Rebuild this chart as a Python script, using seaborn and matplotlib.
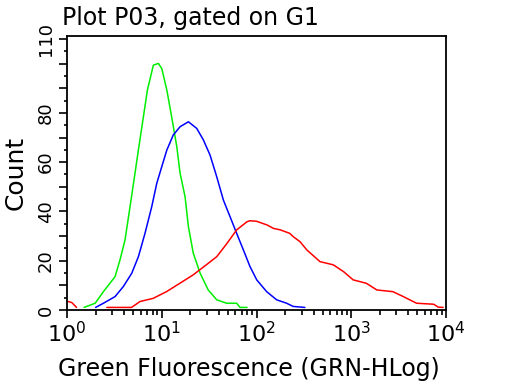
import numpy as np
import pandas as pd
import seaborn as sns
import matplotlib.pyplot as plt
from matplotlib.ticker import FixedLocator, NullFormatter

# histogram traces (fluorescence, count)
green_x = [1.51, 1.98, 2.42, 3.21, 3.62, 4.09, 4.62, 5.09, 5.66, 6.4, 7.05, 8.15, 9.2,
           10.0, 11.3, 12.7, 14.4, 15.6, 17.6, 19.1, 21.5, 25.4, 30.9, 38.0, 48.4,
           61.7, 67.0, 79.4]
green_y = [1, 2.7, 7.4, 13.5, 20.3, 28.4, 41.9, 52.8, 64.9, 78.5, 89.3, 99.4, 100.1,
           98, 89.3, 78.5, 66.3, 55.5, 46, 33.8, 23, 14.9, 8.1, 4.1, 2.7,
           2.7, 1, 1]

blue_x = [2.0, 2.42, 3.21, 3.93, 4.82, 5.66, 6.65, 7.83, 8.85, 10.0, 11.3, 13.2, 15.6,
          19.1, 23.4, 27.5, 32.3, 38.0, 44.7, 52.5, 61.7, 72.6, 85.3, 100.5, 128,
          163, 208, 244, 324]
blue_y = [1, 2.7, 5.4, 9.5, 14.9, 21.6, 31.1, 41.9, 51.4, 58.2, 64.9, 71, 74.4,
          76.4, 73.7, 69, 62.9, 54.1, 44.6, 37.9, 31.1, 24.4, 17.6, 12.2, 7.4,
          4.1, 2.7, 1.4, 1]

red_blip_x = [1.0, 1.12, 1.26]
red_blip_y = [3.5, 3.0, 1.0]

red_x = [2.63, 4.79, 5.89, 8.13, 11.2, 15.5, 21.4, 29.5, 38.0, 49.0, 61.7, 79.4, 85.1,
         100, 129, 151, 178, 224, 245, 288, 339, 372, 468, 646, 832, 1047, 1445,
         1862, 2754, 3548, 4898, 7413, 8318, 9333]
red_y = [1, 1, 3.4, 4.7, 7.4, 10.8, 14.2, 18.3, 21.6, 27.1, 32.5, 35.8, 36.2,
         36, 34.5, 33.1, 32.5, 31.1, 29.7, 27.7, 24.4, 23, 19.6, 18.3, 15.5, 12.2, 10.8,
         8.1, 7.4, 5.4, 2.7, 2.3, 1.1, 1]

y_ticks = [0, 20, 40, 60, 80, 110]

sns.set_style('ticks')
plt.rcParams['font.family'] = ['DejaVu Sans']
plt.rcParams['text.color'] = 'black'
plt.rcParams['xtick.color'] = 'black'
plt.rcParams['ytick.color'] = 'black'
plt.rcParams['axes.labelcolor'] = 'black'

fig = plt.figure(figsize=(5.12, 3.84), dpi=100)
ax = fig.add_axes([0.131, 0.193, 0.740, 0.713])

traces = [(green_x, green_y, '#00ee00'), (blue_x, blue_y, '#0000ff'),
          (red_blip_x, red_blip_y, '#ff0000'), (red_x, red_y, '#ff0000')]
for xs, ys, col in traces:
    df = pd.DataFrame({'fl': xs, 'count': ys})
    sns.lineplot(data=df, x='fl', y='count', color=col, lw=1.1, sort=False,
                 estimator=None, ax=ax)

ax.set_xscale('log')
ax.set_xlim(1, 1e4)
ax.set_ylim(0, 111.2)

ax.yaxis.set_major_locator(FixedLocator(range(0, 111, 10)))
ax.set_yticklabels([str(v) if v in y_ticks else '' for v in range(0, 111, 10)],
                   rotation=90, va='center')
ax.yaxis.set_minor_locator(FixedLocator(range(5, 111, 10)))
ax.yaxis.set_minor_formatter(NullFormatter())

ax.tick_params(axis='both', which='major', direction='out', length=6, width=1.2,
               pad=2)
ax.tick_params(axis='x', which='major', labelsize=16)
ax.tick_params(axis='y', which='major', labelsize=13, pad=3)
ax.tick_params(axis='both', which='minor', direction='out', length=3.5, width=1.2)
ax.tick_params(axis='y', which='minor', length=2)

for sp in ax.spines.values():
    sp.set_visible(True)
    sp.set_color('black')
    sp.set_linewidth(1.3)

ax.set_xlabel('Green Fluorescence (GRN-HLog)', fontsize=17, va='center')
ax.xaxis.set_label_coords(0.48, -0.215)
ax.set_ylabel('Count', fontsize=18, va='center')
ax.yaxis.set_label_coords(-0.137, 0.5)
fig.text(0.121, 0.953, 'Plot P03, gated on G1', fontsize=17, va='center', ha='left')

plt.savefig('out.png', dpi=100)
